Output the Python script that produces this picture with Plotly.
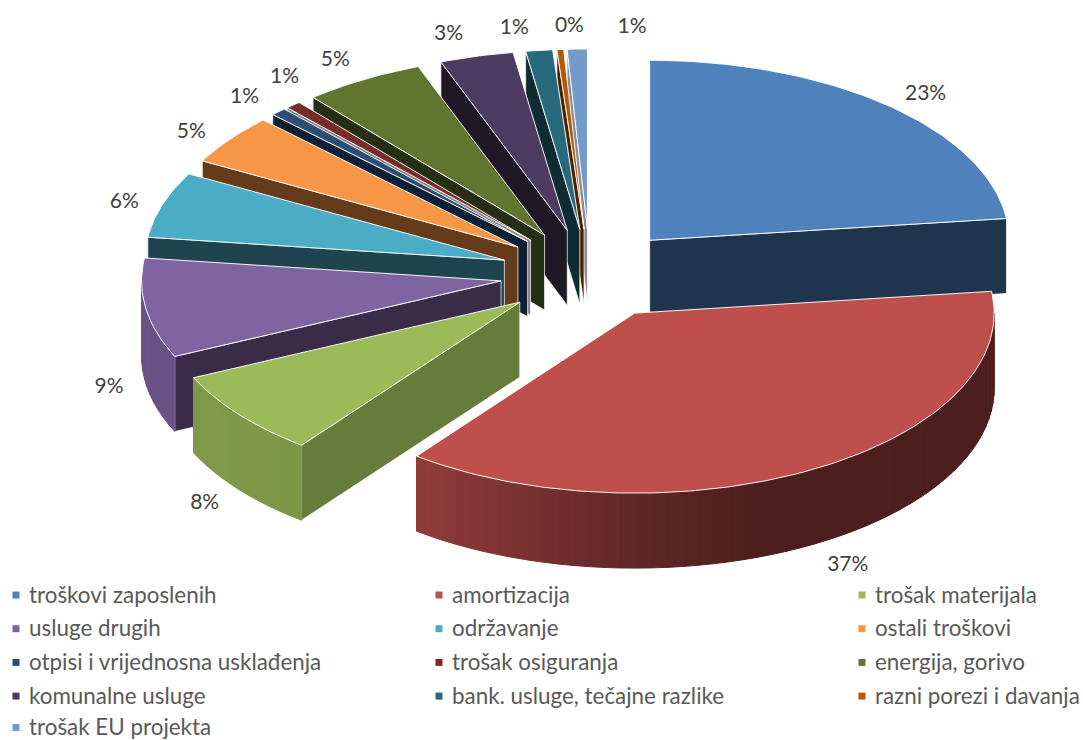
import numpy as np
import plotly.graph_objects as go

categories = ["troškovi zaposlenih", "amortizacija", "trošak materijala", "usluge drugih",
              "održavanje", "ostali troškovi", "otpisi i vrijednosna usklađenja", "trošak osiguranja",
              "energija, gorivo", "komunalne usluge", "bank. usluge, tečajne razlike",
              "razni porezi i davanja", "trošak EU projekta"]
values = [23.0, 37.2, 7.7, 8.9, 5.9, 4.5, 0.7, 0.7, 5.4, 3.3, 1.2, 0.3, 0.9]
percent_labels = ["23%", "37%", "8%", "9%", "6%", "5%", "1%", "1%", "5%", "3%", "1%", "0%", "1%"]
top_colors = ["#4F81BD", "#BE4F4C", "#9BBB59", "#8064A2", "#4BACC6", "#F79646", "#2C4D75",
              "#772C2A", "#5F7530", "#4D3B62", "#276A7C", "#B65708", "#729ACA"]
wall_colors = ["#1F344D", "#4C1F1F", "#667C3A", "#3A2B49", "#1F444F", "#643C1C", "#0F2033",
               "#8A7F80", "#262F13", "#1F1827", "#102C33", "#4A2303", "#8C8C90"]

CX, CY, RX, RY, EXPLODE, DEPTH = 590.0, 274.0, 359.5, 180.0, 90.0, 75.0
K = RY / RX
LABEL_F = 1.12
label_nudge = {0: (9, 5), 1: (13, 3), 2: (-1, 0), 3: (6, 1), 4: (3, 5), 5: (-4, 6), 6: (-4, 2), 7: (20, -11),
               8: (-6, 0), 9: (-17, -1), 10: (-20, 0), 11: (12, -1), 12: (56, 0)}

frac = np.array(values) / sum(values)
ends = np.cumsum(frac) * 360.0
starts = ends - frac * 360.0
mids = (starts + ends) / 2.0


def pt(apex, deg, r=1.0):
    a = np.radians(deg)
    return apex[0] + r * RX * np.sin(a), apex[1] - r * RY * np.cos(a)


def shade(x):
    return np.interp(x, [140, 300, 418, 640, 760], [0.83, 0.81, 0.76, 0.50, 0.40])


def tint(hexcol, s):
    r, g, b = int(hexcol[1:3], 16), int(hexcol[3:5], 16), int(hexcol[5:7], 16)
    return f"rgb({int(r*s)},{int(g*s)},{int(b*s)})"


fig = go.Figure()


def poly(xs, ys, fill, line=None, width=1.0):
    fig.add_trace(go.Scatter(x=xs, y=ys, mode="lines", fill="toself", fillcolor=fill,
                             line=dict(color=line or fill, width=width),
                             hoverinfo="skip", showlegend=False))


apexes = [(CX + EXPLODE * np.sin(np.radians(m)),
           CY - EXPLODE * K * np.cos(np.radians(m))) for m in mids]

for i in sorted(range(len(values)), key=lambda j: -np.cos(np.radians(mids[j]))):
    ap, s, e = apexes[i], starts[i], ends[i]
    # flat radial walls that face the viewer
    for ang, normal in ((s, s - 90), (e, e + 90)):
        if np.cos(np.radians(normal)) < 0:
            ox, oy = pt(ap, ang)
            poly([ap[0], ox, ox, ap[0], ap[0]], [ap[1], oy, oy + DEPTH, ap[1] + DEPTH, ap[1]],
                 wall_colors[i], "rgba(255,255,255,0.9)", 0.8)
    # curved outer rim, shaded in narrow strips
    lo, hi = max(s, 90.0), min(e, 270.0)
    if hi > lo:
        edges = np.linspace(lo, hi, int((hi - lo) / 2.5) + 2)
        for a0, a1 in zip(edges[:-1], edges[1:]):
            x0, y0 = pt(ap, a0)
            x1, y1 = pt(ap, a1)
            poly([x0, x1, x1, x0, x0], [y0, y1, y1 + DEPTH, y0 + DEPTH, y0],
                 tint(top_colors[i], shade((x0 + x1) / 2)))
    # top face
    arc = np.linspace(s, e, max(int(e - s), 3) + 1)
    ax, ay = pt(ap, arc)
    poly(np.r_[ap[0], ax, ap[0]], np.r_[ap[1], ay, ap[1]], top_colors[i], "rgba(255,255,255,0.95)", 1.0)

# percentage labels
lx, ly = [], []
for i, m in enumerate(mids):
    x, y = pt(apexes[i], m, LABEL_F)
    if np.cos(np.radians(m)) < 0:
        y += DEPTH
    dx, dy = label_nudge.get(i, (0, 0))
    lx.append(x + dx)
    ly.append(y + dy)
fig.add_trace(go.Scatter(x=lx, y=ly, mode="text", text=percent_labels, textposition="middle center",
                         textfont=dict(family="Lato", size=21, color="#404040"),
                         hoverinfo="skip", showlegend=False))

# legend
col_x = [16, 439, 862]
row_y = [595, 628.7, 662.4, 696.1, 727.5]
leg_x = np.array([col_x[i % 3] for i in range(len(categories))], dtype=float)
leg_y = np.array([row_y[i // 3] for i in range(len(categories))], dtype=float)
fig.add_trace(go.Scatter(x=leg_x, y=leg_y, mode="markers",
                         marker=dict(symbol="square", size=7, color=top_colors),
                         hoverinfo="skip", showlegend=False))
fig.add_trace(go.Scatter(x=leg_x + 13, y=leg_y + 2, mode="text", text=categories,
                         textposition="middle right",
                         textfont=dict(family="Lato", size=22.4, color="#595959"),
                         hoverinfo="skip", showlegend=False))

fig.update_layout(width=1083, height=740, autosize=False, margin=dict(l=0, r=0, t=0, b=0),
                  paper_bgcolor="white", plot_bgcolor="white",
                  xaxis=dict(range=[0, 1083], visible=False, fixedrange=True),
                  yaxis=dict(range=[740, 0], visible=False, fixedrange=True))
fig.write_html("out.html", config={"displayModeBar": False},
               post_script="document.body.style.margin='0';")
